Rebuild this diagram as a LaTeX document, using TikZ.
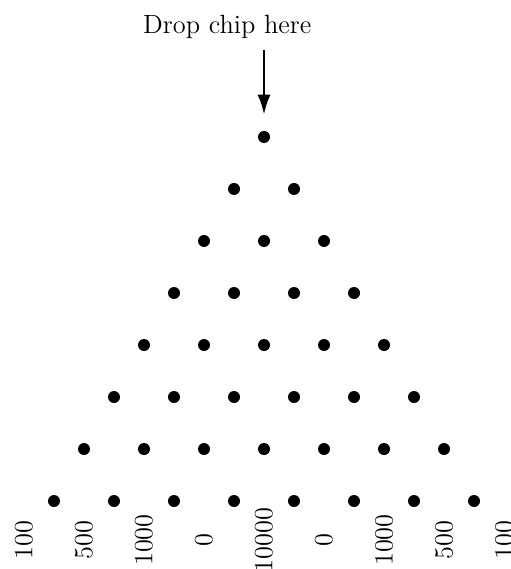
\documentclass[tikz,border=0pt]{standalone}
\usepackage{tikz}
\usetikzlibrary{arrows.meta, positioning, calc}
\tikzset{
	peg/.style      ={circle, fill=black, inner sep=0pt, minimum size=0.2cm},
	slotlabel/.style={rotate=90, inner sep=0pt},
	droparrow/.style={-{Latex[length=3.4mm, width=2.2mm]}, line width=1.4pt},
}

\begin{document}
\begin{tikzpicture}[font=\fontsize{12.5}{15}\selectfont]
	\useasboundingbox (-4.4,-7.2) rectangle (4.1,2.283);
	% pegs, row k has k+1 pegs
	\foreach \k in {0,...,7}
		\foreach \j in {0,...,\k}
			\node[peg] (p-\k-\j) at ({\j-\k/2}, {-0.8667*\k}) {};
	% slot values
	\foreach \v [count=\i from -4] in {100,500,1000,0,10000,0,1000,500,100}
		\node[slotlabel] (s\i) at (\i,-6.717) {\v};
	\node[anchor=base west, inner sep=0pt] (drop) at (-2.02,1.733) {Drop chip here};
	\coordinate (start) at (0,1.45);
	\coordinate (stop) at ($(p-0-0)+(0,0.367)$);
	\draw[droparrow] (start) -- (stop);
\end{tikzpicture}
\end{document}
